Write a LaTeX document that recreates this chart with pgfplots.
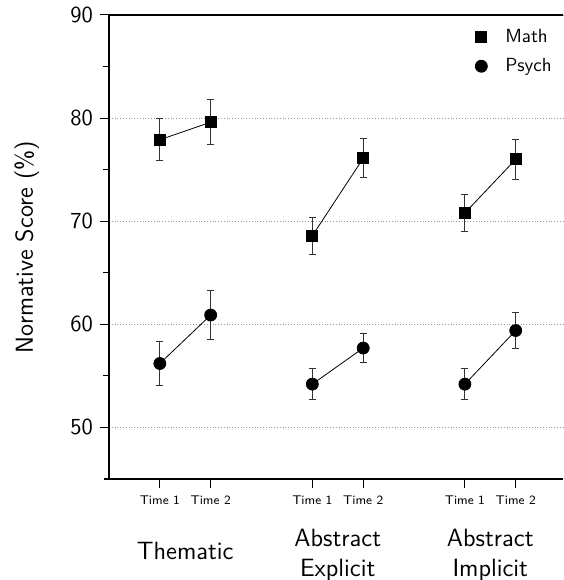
\documentclass[border=0pt]{standalone}
\usepackage{pgfplots}
\pgfplotsset{compat=1.18}

\begin{document}
\begin{tikzpicture}
\begin{axis}[
  name=ax,
  scale only axis,
  width=227pt, height=232pt,
  xmin=-1, xmax=7.93,
  ymin=45, ymax=90,
  axis lines=left,
  axis line style={-, line width=0.6pt},
  tick align=outside,
  major tick length=4.5pt,
  minor tick length=3pt,
  tick style={black, line width=0.5pt},
  xtick={0,1,3,4,6,7},
  xticklabels={Time 1,Time 2,Time 1,Time 2,Time 1,Time 2},
  x tick label style={font=\sffamily\fontsize{6.3}{7}\selectfont, yshift=-0.5pt},
  ytick={50,60,70,80,90},
  minor ytick={55,65,75,85},
  y tick label style={font=\sffamily\fontsize{11.5}{13}\selectfont},
  /pgf/number format/assume math mode=true,
  ymajorgrids,
  grid style={densely dotted, gray!80, line width=0.4pt},
  ylabel={Normative Score (\%)},
  ylabel style={font=\sffamily\fontsize{12.3}{14}\selectfont, at={(axis description cs:-0.181,0.5)}, anchor=center, rotate=0},
  clip=false,
  legend style={draw=none, fill=none, at={(0.998,0.988)}, anchor=north east,
    font=\sffamily\fontsize{9.5}{11}\selectfont, row sep=2.5pt},
  legend cell align=left,
  legend image code/.code={\path[draw=none, fill=none] (0cm,0cm) rectangle (0.65cm,0cm); \draw[#1] plot coordinates {(0.3cm,0cm)};},
  error bars/y dir=both,
  error bars/y explicit,
  error bars/error bar style={black!80, line width=0.5pt},
  error bars/error mark options={rotate=90, mark size=1.75pt, black!80, line width=0.5pt},
]
\addlegendimage{only marks, mark=square*, mark size=2.75pt, black}
\addlegendentry{Math}
\addlegendimage{only marks, mark=*, mark size=3pt, black}
\addlegendentry{Psych}

% Math
\addplot[black, line width=0.4pt, mark=square*, mark size=2.75pt, forget plot]
  coordinates {(0,77.9) +- (0,2.05) (1,79.6) +- (0,2.2)};
\addplot[black, line width=0.4pt, mark=square*, mark size=2.75pt, forget plot]
  coordinates {(3,68.6) +- (0,1.8) (4,76.1) +- (0,1.9)};
\addplot[black, line width=0.4pt, mark=square*, mark size=2.75pt, forget plot]
  coordinates {(6,70.8) +- (0,1.75) (7,76.0) +- (0,1.95)};
% Psych
\addplot[black, line width=0.4pt, mark=*, mark size=3pt, forget plot]
  coordinates {(0,56.2) +- (0,2.1) (1,60.9) +- (0,2.4)};
\addplot[black, line width=0.4pt, mark=*, mark size=3pt, forget plot]
  coordinates {(3,54.2) +- (0,1.5) (4,57.7) +- (0,1.45)};
\addplot[black, line width=0.4pt, mark=*, mark size=3pt, forget plot]
  coordinates {(6,54.2) +- (0,1.5) (7,59.4) +- (0,1.7)};

% top frame line and small overhang of the x axis
\draw[line width=0.6pt] (rel axis cs:0,1) -- (rel axis cs:1,1);
\draw[line width=0.6pt] (rel axis cs:0,0) -- ([xshift=-2.5pt]rel axis cs:0,0);

\begin{scope}[font=\sffamily\fontsize{12.5}{15}\selectfont, align=center]
\node at (axis cs:0.5,45) [yshift=-36pt] {Thematic};
\node at (axis cs:3.5,45) [yshift=-38pt] {Abstract\\Explicit};
\node at (axis cs:6.5,45) [yshift=-38pt] {Abstract\\Implicit};
\end{scope}
\end{axis}
\pgfresetboundingbox
\path[use as bounding box] ([xshift=-54.5pt, yshift=-50.5pt]ax.south west) rectangle ([yshift=7.5pt]ax.north east);
\end{tikzpicture}
\end{document}
